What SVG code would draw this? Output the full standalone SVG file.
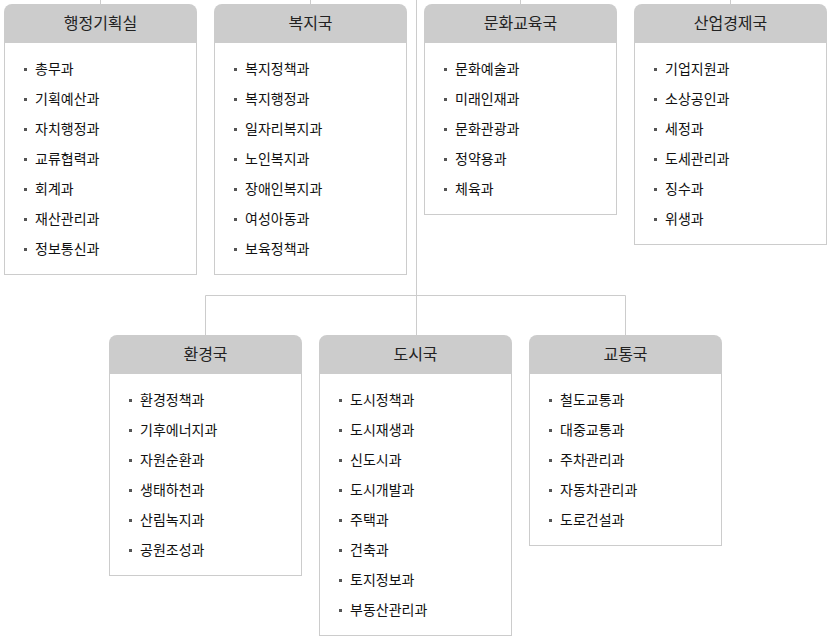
<svg xmlns="http://www.w3.org/2000/svg" width="832" height="640" viewBox="0 0 832 640">
<style>
.body{fill:#fff;stroke:#cccccc;stroke-width:1}
.hd{fill:#cccccc}
.ht{font-family:"Noto Sans CJK KR","Noto Sans",sans-serif;font-size:16px;fill:#222;text-anchor:middle}
.it{font-family:"Noto Sans CJK KR","Noto Sans",sans-serif;font-size:14px;fill:#111}
.b{fill:#555}
.ln{stroke:#cccccc;stroke-width:1;fill:none}
</style>
<defs>
<path id="hdr" d="M0,39 V8 A8,8 0 0 1 8,0 H185 A8,8 0 0 1 193,8 V39 Z"/>
<rect id="blt" width="3" height="3"/>
</defs>
<rect width="832" height="640" fill="#fff"/>
<g id="connectors" class="ln">
<line x1="100.5" y1="0" x2="100.5" y2="4"/>
<line x1="310.5" y1="0" x2="310.5" y2="4"/>
<line x1="520.5" y1="0" x2="520.5" y2="4"/>
<line x1="730.5" y1="0" x2="730.5" y2="4"/>
<line x1="416.5" y1="0" x2="416.5" y2="335"/>
<line x1="205.5" y1="295.5" x2="625.5" y2="295.5"/>
<line x1="205.5" y1="295.5" x2="205.5" y2="335"/>
<line x1="625.5" y1="295.5" x2="625.5" y2="335"/>
</g>

<g id="n1">
<rect class="body" x="4.5" y="40" width="192" height="234.5"/>
<use href="#hdr" class="hd" x="4" y="4"/>
<text class="ht" x="100.5" y="29">행정기획실</text>
<g class="b"><use href="#blt" x="24" y="68"/><use href="#blt" x="24" y="98"/><use href="#blt" x="24" y="128"/><use href="#blt" x="24" y="158"/><use href="#blt" x="24" y="188"/><use href="#blt" x="24" y="218"/><use href="#blt" x="24" y="248"/></g>
<text class="it" x="35" y="74">총무과</text>
<text class="it" x="35" y="104">기획예산과</text>
<text class="it" x="35" y="134">자치행정과</text>
<text class="it" x="35" y="164">교류협력과</text>
<text class="it" x="35" y="194">회계과</text>
<text class="it" x="35" y="224">재산관리과</text>
<text class="it" x="35" y="254">정보통신과</text>
</g>

<g id="n2">
<rect class="body" x="214.5" y="40" width="192" height="234.5"/>
<use href="#hdr" class="hd" x="214" y="4"/>
<text class="ht" x="310.5" y="29">복지국</text>
<g class="b"><use href="#blt" x="234" y="68"/><use href="#blt" x="234" y="98"/><use href="#blt" x="234" y="128"/><use href="#blt" x="234" y="158"/><use href="#blt" x="234" y="188"/><use href="#blt" x="234" y="218"/><use href="#blt" x="234" y="248"/></g>
<text class="it" x="245" y="74">복지정책과</text>
<text class="it" x="245" y="104">복지행정과</text>
<text class="it" x="245" y="134">일자리복지과</text>
<text class="it" x="245" y="164">노인복지과</text>
<text class="it" x="245" y="194">장애인복지과</text>
<text class="it" x="245" y="224">여성아동과</text>
<text class="it" x="245" y="254">보육정책과</text>
</g>

<g id="n3">
<rect class="body" x="424.5" y="40" width="192" height="174.5"/>
<use href="#hdr" class="hd" x="424" y="4"/>
<text class="ht" x="520.5" y="29">문화교육국</text>
<g class="b"><use href="#blt" x="444" y="68"/><use href="#blt" x="444" y="98"/><use href="#blt" x="444" y="128"/><use href="#blt" x="444" y="158"/><use href="#blt" x="444" y="188"/></g>
<text class="it" x="455" y="74">문화예술과</text>
<text class="it" x="455" y="104">미래인재과</text>
<text class="it" x="455" y="134">문화관광과</text>
<text class="it" x="455" y="164">정약용과</text>
<text class="it" x="455" y="194">체육과</text>
</g>

<g id="n4">
<rect class="body" x="634.5" y="40" width="192" height="204.5"/>
<use href="#hdr" class="hd" x="634" y="4"/>
<text class="ht" x="730.5" y="29">산업경제국</text>
<g class="b"><use href="#blt" x="654" y="68"/><use href="#blt" x="654" y="98"/><use href="#blt" x="654" y="128"/><use href="#blt" x="654" y="158"/><use href="#blt" x="654" y="188"/><use href="#blt" x="654" y="218"/></g>
<text class="it" x="665" y="74">기업지원과</text>
<text class="it" x="665" y="104">소상공인과</text>
<text class="it" x="665" y="134">세정과</text>
<text class="it" x="665" y="164">도세관리과</text>
<text class="it" x="665" y="194">징수과</text>
<text class="it" x="665" y="224">위생과</text>
</g>

<g id="n5">
<rect class="body" x="109.5" y="371" width="192" height="204.5"/>
<use href="#hdr" class="hd" x="109" y="335"/>
<text class="ht" x="205.5" y="360">환경국</text>
<g class="b"><use href="#blt" x="129" y="399"/><use href="#blt" x="129" y="429"/><use href="#blt" x="129" y="459"/><use href="#blt" x="129" y="489"/><use href="#blt" x="129" y="519"/><use href="#blt" x="129" y="549"/></g>
<text class="it" x="140" y="405">환경정책과</text>
<text class="it" x="140" y="435">기후에너지과</text>
<text class="it" x="140" y="465">자원순환과</text>
<text class="it" x="140" y="495">생태하천과</text>
<text class="it" x="140" y="525">산림녹지과</text>
<text class="it" x="140" y="555">공원조성과</text>
</g>

<g id="n6">
<rect class="body" x="319.5" y="371" width="192" height="264.5"/>
<use href="#hdr" class="hd" x="319" y="335"/>
<text class="ht" x="415.5" y="360">도시국</text>
<g class="b"><use href="#blt" x="339" y="399"/><use href="#blt" x="339" y="429"/><use href="#blt" x="339" y="459"/><use href="#blt" x="339" y="489"/><use href="#blt" x="339" y="519"/><use href="#blt" x="339" y="549"/><use href="#blt" x="339" y="579"/><use href="#blt" x="339" y="609"/></g>
<text class="it" x="350" y="405">도시정책과</text>
<text class="it" x="350" y="435">도시재생과</text>
<text class="it" x="350" y="465">신도시과</text>
<text class="it" x="350" y="495">도시개발과</text>
<text class="it" x="350" y="525">주택과</text>
<text class="it" x="350" y="555">건축과</text>
<text class="it" x="350" y="585">토지정보과</text>
<text class="it" x="350" y="615">부동산관리과</text>
</g>

<g id="n7">
<rect class="body" x="529.5" y="371" width="192" height="174.5"/>
<use href="#hdr" class="hd" x="529" y="335"/>
<text class="ht" x="625.5" y="360">교통국</text>
<g class="b"><use href="#blt" x="549" y="399"/><use href="#blt" x="549" y="429"/><use href="#blt" x="549" y="459"/><use href="#blt" x="549" y="489"/><use href="#blt" x="549" y="519"/></g>
<text class="it" x="560" y="405">철도교통과</text>
<text class="it" x="560" y="435">대중교통과</text>
<text class="it" x="560" y="465">주차관리과</text>
<text class="it" x="560" y="495">자동차관리과</text>
<text class="it" x="560" y="525">도로건설과</text>
</g>
</svg>
